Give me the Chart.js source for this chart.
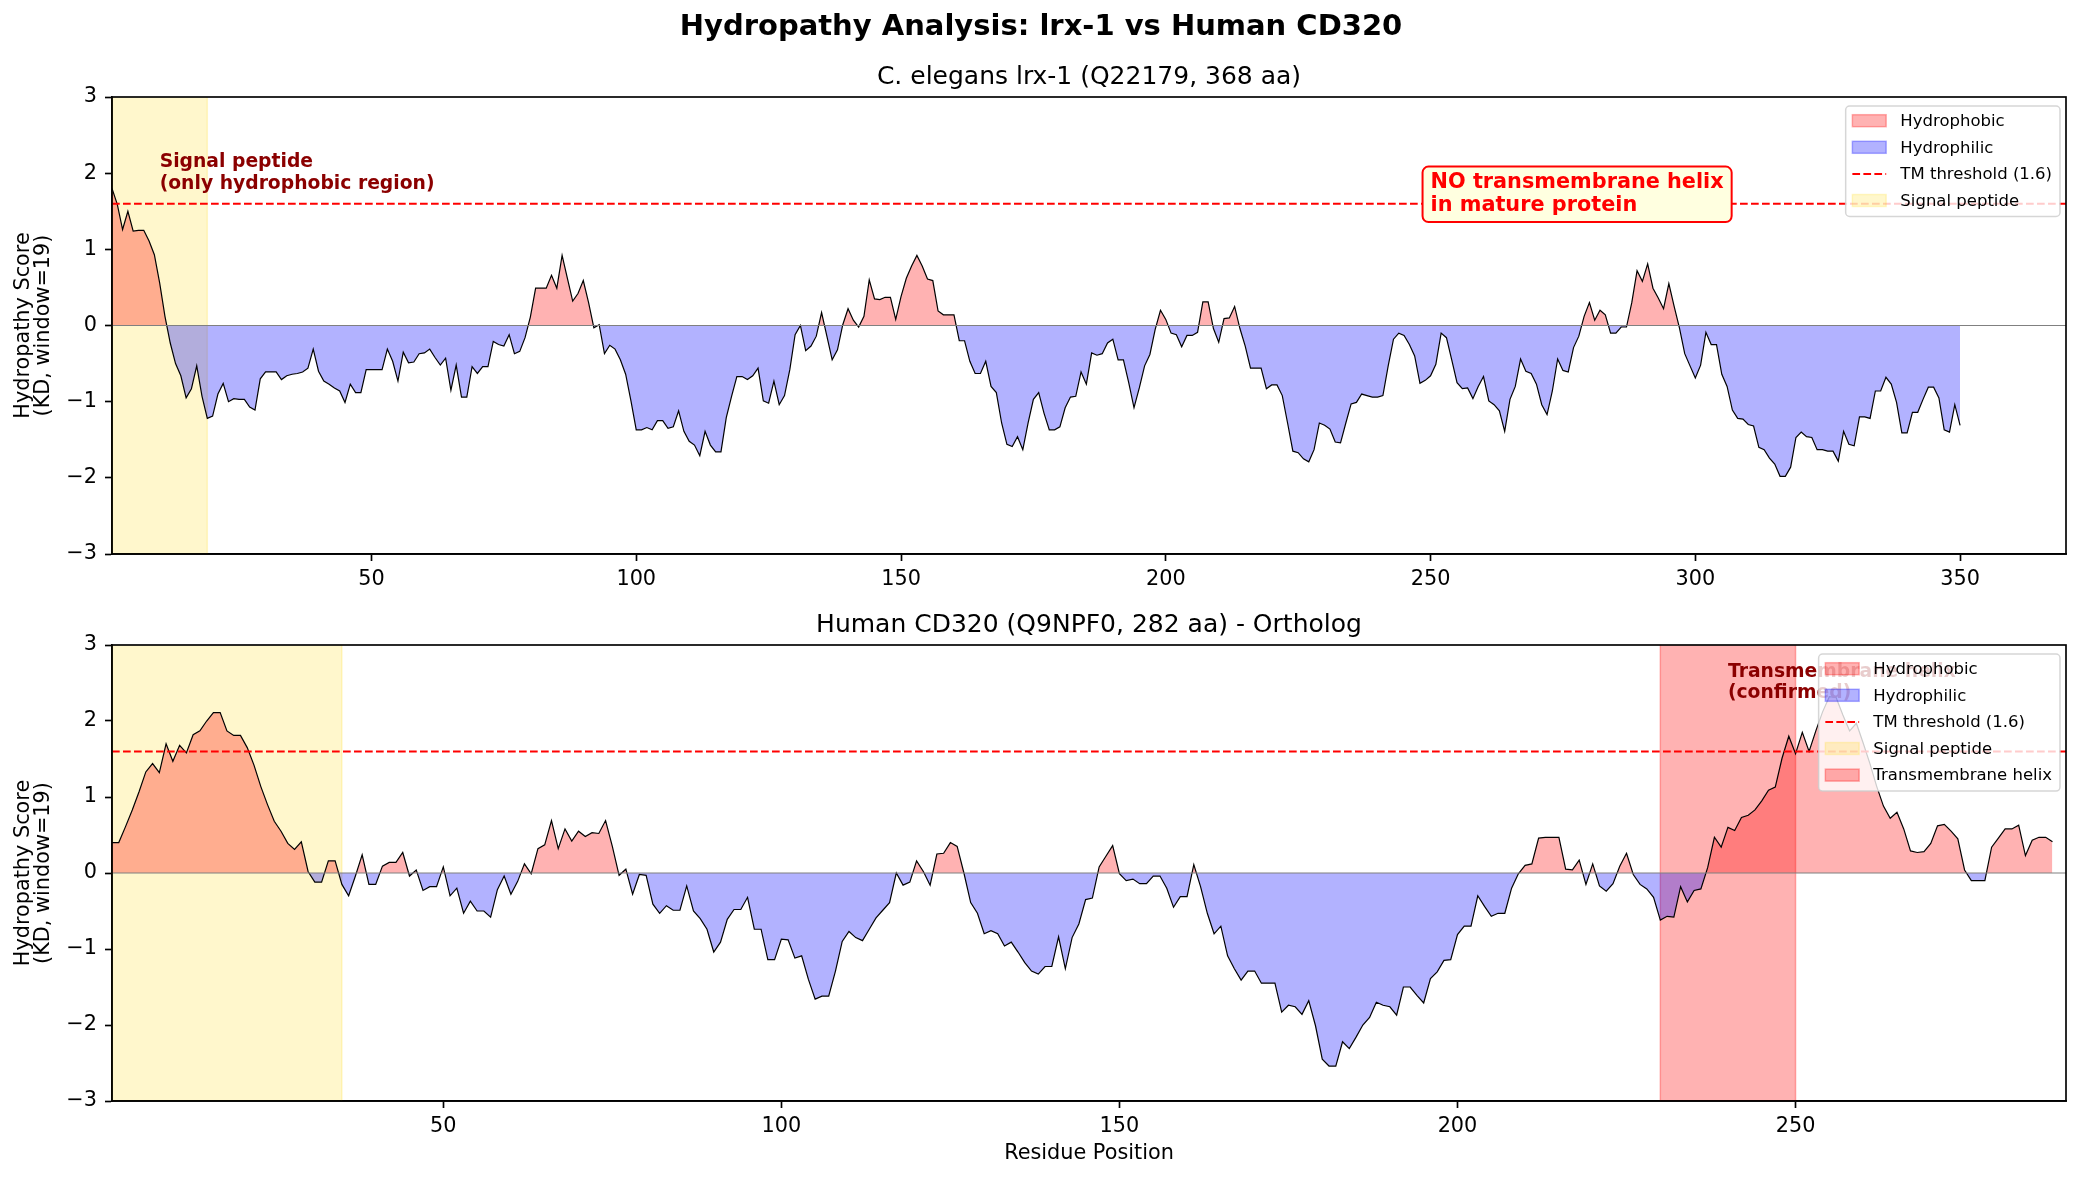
<!DOCTYPE html>
<html>
<head>
<meta charset="utf-8">
<title>Hydropathy Analysis: lrx-1 vs Human CD320</title>
<script src="https://cdn.jsdelivr.net/npm/chart.js@4.4.1/dist/chart.umd.min.js"></script>
<style>
    body { margin: 0; background: #fff; overflow: hidden; }
    canvas { position: absolute; left: 0; }
    #chartTop { top: 0; }
    #chartBottom { top: 600px; }
</style>
</head>
<body>
<canvas id="chartTop" width="2082" height="600"></canvas>
<canvas id="chartBottom" width="2082" height="581"></canvas>
<script>
// Kyte-Doolittle scores (window 19), one value per residue starting at 1
var lrx1Scores = [
    1.80, 1.59, 1.26, 1.50, 1.24, 1.25, 1.25, 1.11, 0.93, 0.56,
    0.12, -0.23, -0.50, -0.66, -0.95, -0.83, -0.53, -0.93, -1.22, -1.19,
    -0.90, -0.76, -1.00, -0.96, -0.97, -0.97, -1.07, -1.11, -0.70, -0.61,
    -0.61, -0.61, -0.71, -0.66, -0.64, -0.63, -0.61, -0.56, -0.31, -0.60,
    -0.73, -0.77, -0.82, -0.86, -1.01, -0.77, -0.88, -0.88, -0.58, -0.58,
    -0.58, -0.58, -0.31, -0.47, -0.73, -0.35, -0.49, -0.48, -0.37, -0.36,
    -0.31, -0.42, -0.52, -0.43, -0.85, -0.52, -0.94, -0.94, -0.54, -0.63,
    -0.54, -0.54, -0.21, -0.25, -0.27, -0.12, -0.37, -0.34, -0.16, 0.11,
    0.49, 0.49, 0.49, 0.66, 0.49, 0.92, 0.62, 0.32, 0.42, 0.59,
    0.30, -0.03, 0.01, -0.37, -0.26, -0.31, -0.45, -0.64, -0.99, -1.37,
    -1.37, -1.34, -1.37, -1.25, -1.25, -1.35, -1.33, -1.12, -1.39, -1.52,
    -1.57, -1.71, -1.39, -1.57, -1.66, -1.66, -1.21, -0.93, -0.67, -0.67,
    -0.71, -0.66, -0.56, -0.99, -1.02, -0.73, -1.04, -0.92, -0.58, -0.12,
    0.00, -0.33, -0.27, -0.14, 0.17, -0.14, -0.45, -0.32, 0.01, 0.22,
    0.07, -0.02, 0.12, 0.60, 0.35, 0.34, 0.37, 0.37, 0.08, 0.38,
    0.62, 0.78, 0.92, 0.78, 0.61, 0.59, 0.19, 0.14, 0.14, 0.14,
    -0.20, -0.20, -0.47, -0.63, -0.63, -0.47, -0.80, -0.88, -1.28, -1.56,
    -1.59, -1.46, -1.63, -1.28, -0.97, -0.88, -1.15, -1.37, -1.37, -1.33,
    -1.08, -0.94, -0.93, -0.61, -0.77, -0.36, -0.39, -0.37, -0.23, -0.18,
    -0.45, -0.45, -0.75, -1.08, -0.82, -0.53, -0.38, -0.05, 0.20, 0.08,
    -0.10, -0.12, -0.28, -0.13, -0.13, -0.09, 0.31, 0.31, -0.04, -0.22,
    0.09, 0.10, 0.25, -0.04, -0.27, -0.56, -0.56, -0.56, -0.83, -0.78,
    -0.78, -0.92, -1.28, -1.65, -1.67, -1.75, -1.79, -1.63, -1.28, -1.31,
    -1.36, -1.53, -1.54, -1.28, -1.03, -1.01, -0.90, -0.92, -0.94, -0.94,
    -0.92, -0.53, -0.18, -0.10, -0.13, -0.25, -0.40, -0.76, -0.72, -0.66,
    -0.51, -0.10, -0.16, -0.45, -0.75, -0.83, -0.82, -0.96, -0.80, -0.67,
    -0.99, -1.04, -1.12, -1.39, -0.97, -0.80, -0.44, -0.60, -0.63, -0.77,
    -1.04, -1.17, -0.86, -0.44, -0.59, -0.61, -0.29, -0.14, 0.12, 0.30,
    0.07, 0.20, 0.14, -0.10, -0.10, -0.02, -0.02, 0.30, 0.72, 0.58,
    0.81, 0.49, 0.36, 0.22, 0.55, 0.25, -0.03, -0.37, -0.53, -0.69,
    -0.52, -0.09, -0.25, -0.25, -0.64, -0.80, -1.11, -1.22, -1.23, -1.30,
    -1.32, -1.60, -1.63, -1.74, -1.82, -1.98, -1.98, -1.86, -1.47, -1.40,
    -1.46, -1.47, -1.63, -1.63, -1.65, -1.65, -1.78, -1.39, -1.56, -1.58,
    -1.20, -1.20, -1.22, -0.86, -0.86, -0.68, -0.77, -1.01, -1.41, -1.41,
    -1.14, -1.14, -0.97, -0.81, -0.81, -0.95, -1.37, -1.40, -1.04, -1.31
];

var cd320Scores = [
    0.40, 0.40, 0.61, 0.83, 1.07, 1.33, 1.44, 1.32, 1.70, 1.47,
    1.68, 1.58, 1.82, 1.87, 2.00, 2.11, 2.11, 1.87, 1.81, 1.81,
    1.65, 1.42, 1.14, 0.90, 0.68, 0.55, 0.39, 0.31, 0.41, 0.02,
    -0.12, -0.12, 0.16, 0.16, -0.15, -0.30, -0.04, 0.24, -0.15, -0.15,
    0.09, 0.14, 0.14, 0.27, -0.04, 0.04, -0.23, -0.18, -0.18, 0.08,
    -0.30, -0.20, -0.53, -0.37, -0.50, -0.50, -0.58, -0.22, -0.04, -0.28,
    -0.11, 0.12, -0.01, 0.32, 0.37, 0.69, 0.32, 0.58, 0.42, 0.55,
    0.48, 0.53, 0.52, 0.69, 0.35, -0.03, 0.05, -0.28, -0.02, -0.03,
    -0.41, -0.53, -0.43, -0.49, -0.49, -0.17, -0.50, -0.60, -0.74, -1.04,
    -0.91, -0.61, -0.48, -0.48, -0.32, -0.74, -0.74, -1.14, -1.14, -0.87,
    -0.88, -1.12, -1.09, -1.40, -1.66, -1.62, -1.62, -1.29, -0.90, -0.77,
    -0.85, -0.89, -0.74, -0.59, -0.49, -0.39, 0.00, -0.16, -0.12, 0.16,
    0.02, -0.16, 0.25, 0.26, 0.40, 0.35, 0.00, -0.39, -0.53, -0.80,
    -0.76, -0.80, -0.96, -0.91, -1.04, -1.18, -1.29, -1.33, -1.23, -1.23,
    -0.84, -1.26, -0.85, -0.67, -0.35, -0.33, 0.08, 0.22, 0.36, -0.01,
    -0.10, -0.08, -0.14, -0.14, -0.04, -0.04, -0.20, -0.45, -0.31, -0.31,
    0.11, -0.18, -0.53, -0.80, -0.70, -1.09, -1.26, -1.41, -1.29, -1.29,
    -1.45, -1.45, -1.45, -1.83, -1.74, -1.76, -1.86, -1.68, -2.01, -2.45,
    -2.54, -2.54, -2.22, -2.31, -2.16, -2.00, -1.90, -1.70, -1.74, -1.76,
    -1.87, -1.50, -1.50, -1.61, -1.71, -1.39, -1.30, -1.15, -1.14, -0.81,
    -0.70, -0.70, -0.30, -0.44, -0.57, -0.53, -0.53, -0.20, -0.01, 0.10,
    0.12, 0.46, 0.47, 0.47, 0.47, 0.05, 0.04, 0.17, -0.15, 0.12,
    -0.17, -0.24, -0.14, 0.09, 0.26, -0.02, -0.15, -0.21, -0.32, -0.62,
    -0.57, -0.58, -0.18, -0.38, -0.23, -0.21, 0.07, 0.47, 0.34, 0.60,
    0.56, 0.73, 0.76, 0.83, 0.95, 1.09, 1.13, 1.51, 1.80, 1.57,
    1.85, 1.60, 1.87, 2.12, 2.32, 2.31, 2.08, 1.87, 1.97, 1.71,
    1.44, 1.14, 0.88, 0.72, 0.80, 0.58, 0.29, 0.27, 0.28, 0.39,
    0.62, 0.64, 0.55, 0.45, 0.04, -0.10, -0.10, -0.10, 0.34, 0.46,
    0.58, 0.58, 0.63, 0.23, 0.43, 0.47, 0.47, 0.41
];

var lrx1Range = [1, 370];
var cd320Range = [1, 290];
var xTicksTop = [50, 100, 150, 200, 250, 300, 350];
var xTicksBottom = [50, 100, 150, 200, 250];
var yTicks = [-3, -2, -1, 0, 1, 2, 3];
var tmThreshold = 1.6;
var lrx1Signal = [1, 19];
var cd320Signal = [1, 35];
var cd320Helix = [230, 250];

var FONT = '"DejaVu Sans", sans-serif';
var RED_FILL = 'rgba(255,0,0,0.3)';
var BLUE_FILL = 'rgba(0,0,255,0.3)';
var GOLD_FILL = 'rgba(255,215,0,0.2)';

function toPoints(scores) {
    return scores.map(function(v, i) {
        return { x: i + 1, y: v };
    });
}

function drawLegend(ctx, area, items) {
    ctx.font = '16.5px ' + FONT;
    var tw = 0;
    items.forEach(function(it) {
        tw = Math.max(tw, ctx.measureText(it.label).width);
    });
    var w = 54.7 + tw + 8;
    var h = 14.7 + (items.length - 1) * 26.6 + 16;
    var left = area.right - 6 - w;
    var top = area.top + 9;

    ctx.beginPath();
    ctx.roundRect(left, top, w, h, 4);
    ctx.fillStyle = 'rgba(255,255,255,0.8)';
    ctx.fill();
    ctx.strokeStyle = 'rgba(204,204,204,0.8)';
    ctx.lineWidth = 1.5;
    ctx.stroke();

    items.forEach(function(it, i) {
        var y = top + 14.7 + i * 26.6;
        var px = left + 6.7;
        if (it.dash) {
            ctx.strokeStyle = it.color;
            ctx.lineWidth = 2;
            ctx.setLineDash([7.7, 3.3]);
            ctx.beginPath();
            ctx.moveTo(px, y);
            ctx.lineTo(px + 33.8, y);
            ctx.stroke();
            ctx.setLineDash([]);
        } else {
            ctx.fillStyle = it.color;
            ctx.fillRect(px, y - 6, 33.8, 12);
            ctx.strokeStyle = it.color;
            ctx.lineWidth = 1.5;
            ctx.strokeRect(px, y - 6, 33.8, 12);
        }
        ctx.fillStyle = '#000';
        ctx.textAlign = 'left';
        ctx.textBaseline = 'middle';
        ctx.fillText(it.label, left + 54.7, y + 1);
    });
}

var decorPlugin = {
    id: 'decor',
    beforeDatasetsDraw: function(chart, args, opts) {
        var ctx = chart.ctx;
        var area = chart.chartArea;
        var xs = chart.scales.x;
        ctx.save();
        (opts.spans || []).forEach(function(s) {
            var x0 = xs.getPixelForValue(s.range[0]);
            var x1 = xs.getPixelForValue(s.range[1]);
            ctx.fillStyle = s.color;
            ctx.fillRect(x0, area.top, x1 - x0, area.bottom - area.top);
            ctx.strokeStyle = s.color;
            ctx.lineWidth = 1.5;
            ctx.beginPath();
            ctx.moveTo(x0, area.top);
            ctx.lineTo(x0, area.bottom);
            ctx.moveTo(x1, area.top);
            ctx.lineTo(x1, area.bottom);
            ctx.stroke();
        });
        ctx.restore();
    },
    afterDraw: function(chart, args, opts) {
        var ctx = chart.ctx;
        var area = chart.chartArea;
        var xs = chart.scales.x;
        var ys = chart.scales.y;
        var cx = (area.left + area.right) / 2;
        var cy = (area.top + area.bottom) / 2;
        ctx.save();

        // annotations
        (opts.notes || []).forEach(function(n) {
            var x = xs.getPixelForValue(n.x);
            var y = ys.getPixelForValue(n.y);
            ctx.font = n.font;
            ctx.textAlign = 'left';
            ctx.textBaseline = 'alphabetic';
            if (n.box) {
                var tw = 0;
                n.lines.forEach(function(l) { tw = Math.max(tw, ctx.measureText(l).width); });
                var size = parseFloat(n.font.split('px')[0].split(' ').pop());
                var bTop = y - size * 0.76 - 6;
                var bBottom = y + (n.lines.length - 1) * n.lineGap + size * 0.24 + 6;
                ctx.beginPath();
                ctx.roundRect(x - 8, bTop, tw + 16, bBottom - bTop, 6);
                ctx.fillStyle = n.box.fill;
                ctx.fill();
                ctx.strokeStyle = n.box.stroke;
                ctx.lineWidth = 2;
                ctx.stroke();
            }
            ctx.fillStyle = n.color;
            n.lines.forEach(function(line, i) {
                ctx.fillText(line, x, y + i * n.lineGap);
            });
        });

        drawLegend(ctx, area, opts.legendItems);

        // axes frame
        ctx.strokeStyle = '#000';
        ctx.lineWidth = 1.67;
        ctx.strokeRect(area.left, area.top, area.right - area.left, area.bottom - area.top);

        // titles
        ctx.fillStyle = '#000';
        ctx.textAlign = 'center';
        ctx.textBaseline = 'middle';
        if (opts.suptitle) {
            ctx.font = 'bold 29px ' + FONT;
            ctx.fillText(opts.suptitle, chart.width / 2, 27);
        }
        ctx.font = '25px ' + FONT;
        ctx.fillText(opts.title, cx, area.top - 20);

        ctx.font = '20.8px ' + FONT;
        if (opts.xLabel) {
            ctx.fillText(opts.xLabel, cx, area.bottom + 53);
        }
        opts.yLabel.forEach(function(line, i) {
            ctx.save();
            ctx.translate(24 + i * 20, cy);
            ctx.rotate(-Math.PI / 2);
            ctx.fillText(line, 0, 0);
            ctx.restore();
        });
        ctx.restore();
    }
};

function buildChart(canvasId, scores, range, xTicks, padding, decor) {
    var ctx = document.getElementById(canvasId).getContext('2d');
    return new Chart(ctx, {
        type: 'line',
        data: {
            datasets: [{
                label: 'TM threshold (1.6)',
                data: [{ x: range[0], y: tmThreshold }, { x: range[1], y: tmThreshold }],
                borderColor: '#ff0000',
                borderWidth: 2,
                borderDash: [7.7, 3.3],
                pointRadius: 0,
                fill: false,
                order: 0
            }, {
                label: 'zero',
                data: [{ x: range[0], y: 0 }, { x: range[1], y: 0 }],
                borderColor: '#808080',
                borderWidth: 1.2,
                pointRadius: 0,
                fill: false,
                order: 1
            }, {
                label: 'KD score',
                data: toPoints(scores),
                borderColor: '#000000',
                borderWidth: 1.2,
                pointRadius: 0,
                tension: 0,
                fill: { target: 'origin', above: RED_FILL, below: BLUE_FILL },
                order: 2
            }]
        },
        options: {
            responsive: false,
            animation: false,
            devicePixelRatio: 1,
            events: [],
            layout: { padding: padding },
            plugins: {
                legend: { display: false },
                tooltip: { enabled: false },
                decor: decor
            },
            scales: {
                x: {
                    type: 'linear',
                    min: range[0],
                    max: range[1],
                    afterBuildTicks: function(s) {
                        s.ticks = xTicks.map(function(v) { return { value: v }; });
                    },
                    afterFit: function(s) { s.height = 40; },
                    grid: { drawOnChartArea: false, drawTicks: true, tickLength: 7, tickWidth: 1.67, tickColor: '#000' },
                    border: { display: true, color: '#000', width: 1.67 },
                    ticks: { color: '#000', font: { family: FONT, size: 20.8 }, padding: 6, maxRotation: 0, autoSkip: false }
                },
                y: {
                    min: -3,
                    max: 3,
                    afterBuildTicks: function(s) {
                        s.ticks = yTicks.map(function(v) { return { value: v }; });
                    },
                    afterFit: function(s) { s.width = 100; },
                    grid: { drawOnChartArea: false, drawTicks: true, tickLength: 7, tickWidth: 1.67, tickColor: '#000' },
                    border: { display: true, color: '#000', width: 1.67 },
                    ticks: {
                        color: '#000',
                        font: { family: FONT, size: 20.8 },
                        padding: 8,
                        callback: function(v) { return String(v).replace('-', '\u2212'); }
                    }
                }
            }
        },
        plugins: [decorPlugin]
    });
}

var yLabelLines = ['Hydropathy Score', '(KD, window=19)'];

buildChart('chartTop', lrx1Scores, lrx1Range, xTicksTop,
    { left: 12, right: 16, top: 97, bottom: 6 },
    {
        suptitle: 'Hydropathy Analysis: lrx-1 vs Human CD320',
        title: 'C. elegans lrx-1 (Q22179, 368 aa)',
        yLabel: yLabelLines,
        spans: [{ range: lrx1Signal, color: GOLD_FILL }],
        notes: [{
            lines: ['Signal peptide', '(only hydrophobic region)'],
            x: 10, y: 2.08, font: 'bold 18.75px ' + FONT, color: '#8b0000', lineGap: 21.7
        }, {
            lines: ['NO transmembrane helix', 'in mature protein'],
            x: 250, y: 1.80, font: 'bold 20.8px ' + FONT, color: '#ff0000', lineGap: 22.7,
            box: { fill: '#ffffe0', stroke: '#ff0000' }
        }],
        legendItems: [
            { label: 'Hydrophobic', color: RED_FILL },
            { label: 'Hydrophilic', color: BLUE_FILL },
            { label: 'TM threshold (1.6)', color: '#ff0000', dash: true },
            { label: 'Signal peptide', color: GOLD_FILL }
        ]
    });

buildChart('chartBottom', cd320Scores, cd320Range, xTicksBottom,
    { left: 12, right: 16, top: 45, bottom: 40 },
    {
        title: 'Human CD320 (Q9NPF0, 282 aa) - Ortholog',
        xLabel: 'Residue Position',
        yLabel: yLabelLines,
        spans: [{ range: cd320Signal, color: GOLD_FILL }, { range: cd320Helix, color: RED_FILL }],
        notes: [{
            lines: ['Transmembrane helix', '(confirmed)'],
            x: 240, y: 2.58, font: 'bold 18.75px ' + FONT, color: '#8b0000', lineGap: 21
        }],
        legendItems: [
            { label: 'Hydrophobic', color: RED_FILL },
            { label: 'Hydrophilic', color: BLUE_FILL },
            { label: 'TM threshold (1.6)', color: '#ff0000', dash: true },
            { label: 'Signal peptide', color: GOLD_FILL },
            { label: 'Transmembrane helix', color: RED_FILL }
        ]
    });
</script>
</body>
</html>
